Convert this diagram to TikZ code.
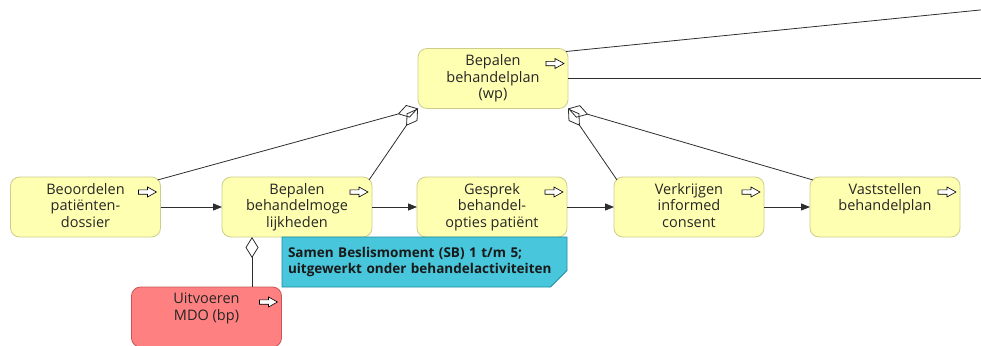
\documentclass[tikz,border=0pt]{standalone}
\usepackage{fontspec}
\setmainfont{Open Sans}
\usetikzlibrary{arrows.meta,shapes.misc}
\definecolor{taskfill}{RGB}{255,255,178}
\definecolor{taskborder}{RGB}{205,205,140}
\definecolor{mdofill}{RGB}{255,128,128}
\definecolor{mdoborder}{RGB}{200,85,85}
\definecolor{notefill}{RGB}{72,198,219}
\definecolor{noteborder}{RGB}{30,140,160}
\definecolor{linegray}{RGB}{45,45,45}

\begin{document}
\begin{tikzpicture}[x=1pt,y=-1pt]
  \useasboundingbox (0,0) rectangle (981,345);
  \clip (0,0) rectangle (981,345);
  \tikzset{TaskStyle/.style = {
    shape           = rectangle,
    rounded corners = 9pt,
    draw            = taskborder,
    fill            = taskfill,
    line width      = 0.8pt,
    text            = black!85,
    inner sep       = 0pt,
    outer sep       = 0pt,
    minimum width   = 150pt,
    minimum height  = 60pt,
    font            = \fontsize{14.5}{16.5}\selectfont,
    execute at begin node = {\begin{minipage}[c][48pt][t]{140pt}\centering},
    execute at end node   = {\end{minipage}},
    path picture    = {
      \draw[sharp corners, draw = black, fill = white, line width = 0.6pt]
        ([shift={(-22pt,-12.8pt)}]path picture bounding box.north east)
        -- ++(9pt,0) -- ++(0,2.8pt) -- ++(9pt,-5pt) -- ++(-9pt,-5pt)
        -- ++(0,2.8pt) -- ++(-9pt,0) -- cycle;
    }
    }
  }
  \tikzset{MdoStyle/.style = {
    TaskStyle,
    draw            = mdoborder,
    fill            = mdofill
    }
  }
  \tikzset{NoteStyle/.style = {
    shape           = chamfered rectangle,
    chamfered rectangle corners = south east,
    chamfered rectangle xsep    = 13pt,
    draw            = noteborder,
    fill            = notefill,
    line width      = 0.8pt,
    text            = black!90,
    inner xsep      = -7pt,
    inner ysep      = 0pt,
    outer sep       = 0pt,
    minimum width   = 285pt,
    minimum height  = 50pt,
    text width      = 273pt,
    align           = left,
    font            = \bfseries\fontsize{13.5}{16}\selectfont
    }
  }
  \tikzset{FlowStyle/.style = {
    draw            = linegray,
    line width      = 0.8pt,
    -{Triangle[length=9pt,width=7pt]}
    }
  }
  \tikzset{PartStyle/.style = {
    draw            = linegray,
    line width      = 0.8pt,
    {Diamond[open,length=21pt,width=13pt]}-
    }
  }
  \tikzset{LineStyle/.style = {
    draw            = linegray,
    line width      = 0.8pt
    }
  }

	\node[TaskStyle](A1) at (493, 78.5) {Bepalen\\behandelplan\\(wp)};
	\node[TaskStyle](B1) at (85.5, 207) {Beoordelen\\patiënten-\\dossier};
	\node[TaskStyle](B2) at (297, 207) {Bepalen\\behandelmoge\\lijkheden};
	\node[TaskStyle](B3) at (492, 207) {Gesprek\\behandel-\\opties patiënt};
	\node[TaskStyle](B4) at (689, 207) {Verkrijgen\\informed\\consent};
	\node[TaskStyle](B5) at (885, 207) {Vaststellen\\behandelplan};
	\node[MdoStyle](C1) at (206.5, 317) {Uitvoeren\\MDO (bp)};
	\node[NoteStyle](N1) at (424.5, 262) {Samen Beslismoment (SB) 1 t/m 5;\\uitgewerkt onder behandelactiviteiten};
	\coordinate (E1) at (990, 9);
	\coordinate (E2) at (990, 78.5);
	\draw[FlowStyle](B1) to (B2);
	\draw[FlowStyle](B2) to (B3);
	\draw[FlowStyle](B3) to (B4);
	\draw[FlowStyle](B4) to (B5);
	\draw[PartStyle](A1.south west) to ([shift={(-3pt,-3pt)}]B1.north east);
	\draw[PartStyle](A1.south west) to ([shift={(-3pt,-3pt)}]B2.north east);
	\draw[PartStyle](A1.south east) to ([shift={(3pt,-3pt)}]B4.north west);
	\draw[PartStyle](A1.south east) to ([shift={(3pt,-3pt)}]B5.north west);
	\draw[PartStyle]([xshift=30pt]B2.south west) to ([xshift=30pt]B2.south west |- C1.north);
	\draw[LineStyle]([shift={(-2pt,-3pt)}]A1.north east) to (E1);
	\draw[LineStyle](A1.east) to (E2);

\end{tikzpicture}
\end{document}
